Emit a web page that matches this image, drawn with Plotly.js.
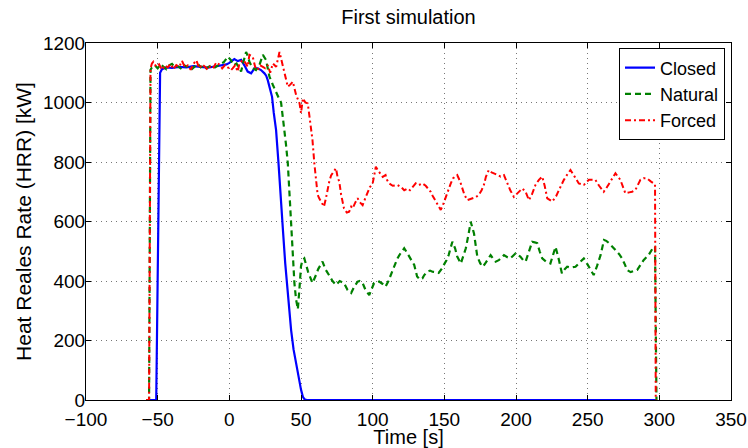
<!DOCTYPE html>
<html>
<head>
<meta charset="utf-8">
<script src="https://cdn.plot.ly/plotly-3.0.1.min.js"></script>
<style>html,body{margin:0;padding:0;background:#fff;}#chart{width:748px;height:448px;}</style>
</head>
<body>
<div id="chart"></div>
<script>
const closedT = [-58,-51,-48.3,-47,-44,-40,-35,-30,-25,-20,-15,-10,-5,-2,0,1.2,3.5,5.9,8.2,10.5,12.8,15.2,17.5,19.8,22.1,24.5,25.7,26.8,28,29.8,31,32.6,34.3,35.7,37.4,39,40.9,43.1,44.8,46.6,48.5,50,51.3,52.5,54,298];
const closedV = [0,0,1100,1112,1118,1116,1120,1118,1122,1120,1117,1121,1124,1128,1133,1137,1146,1139,1143,1125,1104,1098,1115,1115,1109,1098,1090,1075,1050,1019,965,908,796,683,571,459,347,235,170,123,70,35,11,2,0,0];

const naturalT = [-58,-56,-55,-54,-52,-50,-48,-46,-44,-42,-40,-38,-36,-34,-32,-30,-28,-26,-24,-22,-20,-18,-16,-14,-12,-10,-8,-6,-4,-2,-1,1,3,5,7,8.2,10,11.7,13,14,16.3,18.6,21,23.4,25.6,28,30.4,32.7,34.5,36.1,38,39.5,40.8,42,43,44.2,45.4,46.5,47.8,49,50,51,52.3,55,58,60,62,65,67,69.5,72,74.4,77,80,82.5,85,87,89.5,91,93,95,97.6,99,101,103,104.5,107,109,111,112.7,115,117.3,119,122,124,125.4,127,129,131,133,134.7,136,138,140,141.7,144,146,148,149.8,151.5,153,155.6,157.5,159,161.5,163,165,167,168.4,170.7,172,173,175,176.5,178,180,182.3,184,185.8,188,190,191.6,194,196,198,199.7,203,205,206.7,209,211.3,213,214.8,216.5,218.3,221,224,226,227.6,230,232,234,235.7,238,241.5,244,247.3,250,252,254.2,256.5,259,261.4,263,265,267,269.4,272,274,276,277.5,280,282,284.5,287,289,292.5,294,296,297,297.5,298];
const naturalV = [0,0,1110,1118,1125,1115,1128,1120,1112,1125,1130,1118,1122,1115,1128,1120,1125,1113,1122,1130,1118,1124,1115,1120,1127,1118,1125,1130,1135,1148,1154,1143,1125,1131,1115,1104,1140,1170,1154,1137,1115,1109,1126,1160,1143,1087,1059,1031,1015,1000,930,860,796,690,571,470,393,340,305,380,450,470,476,430,393,415,440,465,440,420,400,387,400,393,370,360,380,398,400,393,370,353,370,393,395,398,390,381,400,420,450,476,490,510,495,482,470,454,415,405,409,420,431,435,431,430,427,440,454,470,487,532,510,482,459,480,510,560,599,560,520,482,460,448,455,470,487,475,465,470,478,487,480,476,485,493,482,470,465,500,532,530,527,500,476,465,459,490,515,470,426,440,448,445,448,460,476,455,437,420,450,487,538,535,527,515,504,490,476,455,437,430,432,437,455,470,487,500,515,515,0,0];

const forcedT = [-58,-56,-55,-54,-53,-51,-49,-47,-45,-43,-41,-39,-37,-35,-33,-31,-29,-27,-25,-23,-21,-19,-17,-15,-13,-11,-9,-7,-5,-3,-1,1.2,2.3,4,5.9,7,9.3,11,12.8,14,16.3,18,19.8,21.5,23.4,25,26.8,28.5,30.4,32.7,35,36.1,38.5,40.8,42.5,44.3,46.6,49,50,51.3,53,54.7,56,57,58,59.3,60.4,61.6,62.7,64,66,67.4,68.6,69.7,71,73,74.4,75.5,76.7,78,80,82,83.6,85,86,88,89.5,91,93,95,96.4,98,100,101,102.2,104,105.7,107,109,110,111.5,114,117.3,120,122,124.3,126,128,130,132,134.7,137,139,140.5,142,144,146,147.5,149,151,153,154.5,156,159,161,162.6,164,166,168,169.6,172,174,176,177.6,179,181,183,184.6,187,189.3,191.6,194,196,198.5,201,203,204.4,206.7,209,211,213.6,216,218.3,220,221.8,225.3,228,230,233.4,236,238,241,243.8,247.3,250.8,253,255.4,258,261.2,263,266,269.4,272.8,276.3,279,281,283.3,286.8,289,291.4,294,296,297,297.5,298];
const forcedV = [0,0,1115,1131,1137,1120,1128,1110,1125,1118,1130,1112,1126,1120,1140,1118,1125,1110,1130,1142,1115,1128,1120,1110,1125,1118,1135,1128,1115,1126,1118,1109,1115,1125,1104,1131,1143,1135,1120,1160,1154,1120,1109,1125,1120,1115,1126,1100,1131,1120,1170,1148,1092,1053,1060,1070,1025,997,964,1014,1000,997,950,908,874,796,740,690,678,665,650,678,710,734,755,767,779,750,734,690,644,630,633,650,644,665,678,665,655,680,700,715,728,760,784,770,756,750,756,740,728,720,723,715,705,711,705,718,728,722,728,720,710,700,685,667,650,639,655,683,705,728,745,756,735,711,690,672,675,678,682,689,705,723,750,773,765,762,755,751,756,728,705,683,695,706,711,700,672,690,723,740,751,720,678,667,685,706,740,760,773,750,728,723,740,740,740,720,700,712,734,762,740,695,698,700,706,740,745,745,735,728,725,0,0];

const seriesNames = ['Closed','Natural','Forced'];
const xTicks = [-100,-50,0,50,100,150,200,250,300,350];
const yTicks = [0,200,400,600,800,1000,1200];

const FONT = '"Liberation Sans", Arial, Helvetica, sans-serif';

const traces = [
  {x: closedT, y: closedV, name: seriesNames[0], mode: 'lines', type: 'scatter',
   line: {color: '#0000FF', width: 2.2, dash: 'solid'}},
  {x: naturalT, y: naturalV, name: seriesNames[1], mode: 'lines', type: 'scatter',
   line: {color: '#008000', width: 2.2, dash: '6px,4px'}},
  {x: forcedT, y: forcedV, name: seriesNames[2], mode: 'lines', type: 'scatter',
   line: {color: '#FF0000', width: 2, dash: '6px,3px,2px,3px'}}
];

const axisCommon = {
  showline: true, linecolor: '#000', linewidth: 1, mirror: 'ticks',
  ticks: 'inside', ticklen: 5, tickcolor: '#000', tickwidth: 1,
  showgrid: true, gridcolor: '#777', gridwidth: 1, griddash: '1px,4px',
  zeroline: false, tickfont: {family: FONT, size: 19, color: '#000'}
};

const layout = {
  width: 748, height: 448,
  margin: {l: 86, r: 17, t: 43, b: 48},
  paper_bgcolor: '#fff', plot_bgcolor: '#fff',
  font: {family: FONT, size: 19, color: '#000'},
  title: {text: 'First simulation', font: {family: FONT, size: 20, color: '#000'},
          x: 0.5, xref: 'paper', xanchor: 'center', y: 0.962, yref: 'container', yanchor: 'middle'},
  xaxis: Object.assign({}, axisCommon, {
    range: [-100, 350], tickvals: xTicks, ticklabelstandoff: 2,
    title: {text: 'Time [s]', font: {family: FONT, size: 20, color: '#000'}, standoff: 0}
  }),
  yaxis: Object.assign({}, axisCommon, {
    range: [0, 1200], tickvals: yTicks, ticklabelstandoff: -4,
    title: {text: 'Heat Reales Rate (HRR) [kW]', font: {family: FONT, size: 21, color: '#000'}, standoff: 5}
  }),
  showlegend: true,
  legend: {x: 0.9907, y: 0.985, xanchor: 'right', yanchor: 'top',
           bgcolor: '#fff', bordercolor: '#000', borderwidth: 1, entrywidth: 80,
           font: {family: FONT, size: 18, color: '#000'}, tracegroupgap: 0}
};

Plotly.newPlot('chart', traces, layout, {staticPlot: true, displayModeBar: false});
</script>
</body>
</html>
